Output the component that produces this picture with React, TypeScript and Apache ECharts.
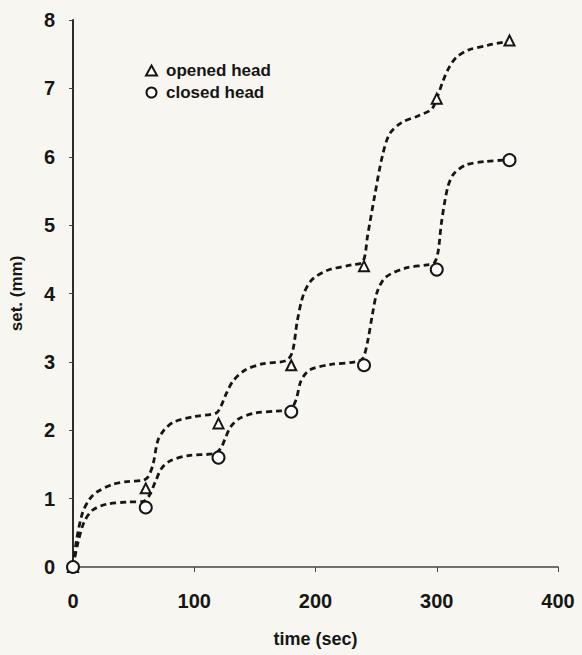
import React, { useEffect, useRef } from "react";
import * as echarts from "echarts";

const xTicks = [0, 100, 200, 300, 400];
const yTicks = [0, 1, 2, 3, 4, 5, 6, 7, 8];

const openedName = "opened head";
const closedName = "closed head";

// measured points
const openedPoints: [number, number][] = [
  [0, 0], [60, 1.15], [120, 2.1], [180, 2.95], [240, 4.4], [300, 6.85], [360, 7.7],
];
const closedPoints: [number, number][] = [
  [0, 0], [60, 0.87], [120, 1.6], [180, 2.27], [240, 2.95], [300, 4.35], [360, 5.95],
];

// dashed fitted curves
const openedCurve: [number, number][] = [
  [0, 0], [3, 0.4], [8, 0.8], [14, 1.0], [20, 1.1], [33, 1.21], [45, 1.25], [58, 1.27],
  [62, 1.32], [66, 1.5], [70, 1.85], [75, 2.0], [83, 2.12], [100, 2.2], [118, 2.25],
  [122, 2.35], [126, 2.52], [132, 2.72], [142, 2.88], [156, 2.97], [176, 3.02],
  [181, 3.15], [185, 3.6], [190, 3.98], [197, 4.2], [210, 4.34], [230, 4.42], [239, 4.46],
  [243, 4.85], [249, 5.45], [255, 6.0], [261, 6.33], [271, 6.5], [285, 6.6], [296, 6.7],
  [301, 6.9], [305, 7.1], [310, 7.3], [316, 7.45], [326, 7.56], [342, 7.63], [356, 7.68],
];
const closedCurve: [number, number][] = [
  [0, 0], [4, 0.35], [9, 0.65], [16, 0.83], [28, 0.92], [45, 0.95], [58, 0.96],
  [63, 1.05], [68, 1.25], [73, 1.44], [80, 1.55], [95, 1.63], [117, 1.66],
  [122, 1.74], [126, 1.9], [130, 2.05], [137, 2.17], [150, 2.25], [168, 2.28], [179, 2.3],
  [184, 2.45], [188, 2.72], [195, 2.88], [212, 2.96], [233, 3.0], [239, 3.05],
  [243, 3.3], [247, 3.7], [251, 4.03], [258, 4.24], [274, 4.37], [292, 4.42], [298, 4.45],
  [301, 4.6], [304, 5.05], [309, 5.55], [314, 5.75], [324, 5.88], [340, 5.93], [355, 5.95],
];

const FONT = "'Liberation Sans', Arial, sans-serif";
const INK = "#161616";
const BG = "#f8f6f0";

export default function App() {
  const ref = useRef<HTMLDivElement>(null);
  useEffect(() => {
    document.body.style.margin = "0";
    if (!ref.current) return;
    const chart = echarts.init(ref.current, undefined, { renderer: "svg" });
    const lineStyle = { color: INK, width: 2.8, type: [6, 4] as any };
    chart.setOption({
      animation: false,
      backgroundColor: BG,
      grid: { left: 68, right: 24, top: 20, bottom: 88, containLabel: false },
      legend: {
        orient: "vertical",
        left: 140,
        top: 57,
        itemWidth: 11,
        itemHeight: 10,
        itemGap: 5,
        textStyle: { fontFamily: FONT, fontSize: 17, fontWeight: "bold", color: INK, padding: [0, 0, 0, 4] },
        data: [
          { name: openedName, icon: "emptyTriangle", itemStyle: { color: INK, borderColor: INK, borderWidth: 1.8 } },
          { name: closedName, icon: "emptyCircle", itemStyle: { color: INK, borderColor: INK, borderWidth: 2 } },
        ],
      },
      xAxis: {
        type: "value",
        min: 0,
        max: 400,
        interval: 100,
        name: "time (sec)",
        nameLocation: "middle",
        nameGap: 63,
        nameTextStyle: { fontFamily: FONT, fontSize: 18, fontWeight: "bold", color: INK },
        axisLine: { show: true, onZero: false, lineStyle: { color: "#444", width: 1.5 } },
        axisTick: { show: true, length: 5, lineStyle: { color: "#444" } },
        axisLabel: { fontFamily: FONT, fontSize: 20, fontWeight: "bold", color: INK, margin: 24 },
        splitLine: { show: false },
      },
      yAxis: {
        type: "value",
        min: 0,
        max: 8,
        interval: 1,
        name: "set. (mm)",
        nameLocation: "middle",
        nameGap: 48,
        nameTextStyle: { fontFamily: FONT, fontSize: 17, fontWeight: "bold", color: INK },
        axisLine: { show: true, lineStyle: { color: INK, width: 1.8 } },
        axisTick: { show: true, length: 4, lineStyle: { color: "#444" } },
        axisLabel: { fontFamily: FONT, fontSize: 20, fontWeight: "bold", color: INK, margin: 18 },
        splitLine: { show: false },
      },
      series: [
        {
          name: "opened curve",
          type: "line",
          data: openedCurve,
          smooth: 0.3,
          showSymbol: false,
          symbol: "none",
          lineStyle,
          z: 2,
        },
        {
          name: "closed curve",
          type: "line",
          data: closedCurve,
          smooth: 0.3,
          showSymbol: false,
          symbol: "none",
          lineStyle,
          z: 2,
        },
        {
          name: openedName,
          type: "scatter",
          data: openedPoints,
          symbol: "emptyTriangle",
          symbolSize: 10,
          itemStyle: { color: INK, borderColor: INK, borderWidth: 2.2, opacity: 1 },
          z: 3,
        },
        {
          name: closedName,
          type: "scatter",
          data: closedPoints,
          symbol: "emptyCircle",
          symbolSize: 12,
          itemStyle: { color: INK, borderColor: INK, borderWidth: 2.6, opacity: 1 },
          z: 3,
        },
      ],
    });
    return () => chart.dispose();
  }, []);
  return <div ref={ref} style={{ width: 582, height: 655 }} />;
}
